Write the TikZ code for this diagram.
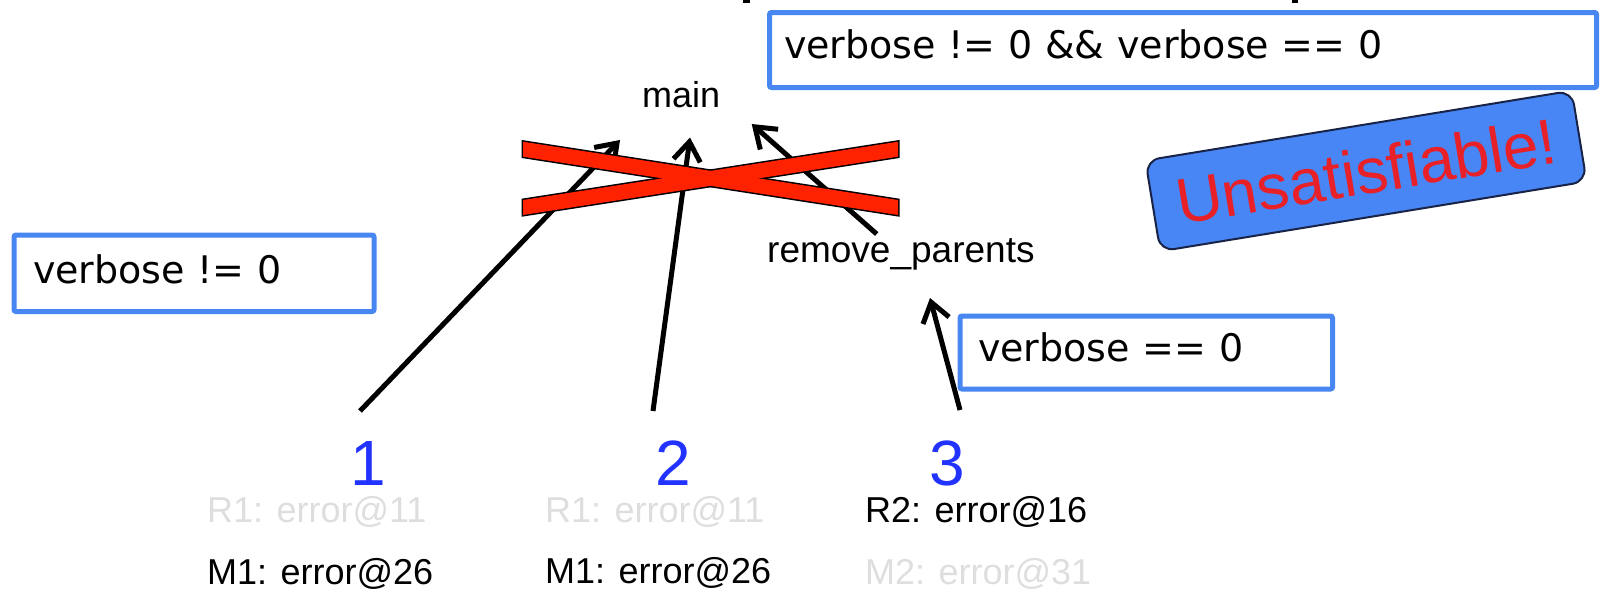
\documentclass[tikz,border=0pt]{standalone}
\usepackage{fontspec}
\setmainfont{Liberation Sans}
\newfontfamily\condfont{DejaVu Sans}
\usetikzlibrary{arrows.meta}

\definecolor{frameblue}{RGB}{72,134,242}
\definecolor{crossred}{RGB}{255,34,0}
\definecolor{stepblue}{RGB}{34,51,255}
\definecolor{fadegray}{RGB}{222,222,222}
\definecolor{badgeblue}{RGB}{72,134,245}
\definecolor{badgeedge}{RGB}{25,35,70}
\definecolor{badgered}{RGB}{232,32,40}

\begin{document}
\begin{tikzpicture}[x=1pt,y=-1pt,
  lbl/.style={font=\fontsize{36}{40}\selectfont, inner sep=0pt, anchor=base west},
  faded/.style={lbl, text=fadegray},
  stepnum/.style={font=\fontsize{64}{70}\selectfont, text=stepblue, inner sep=0pt, anchor=base},
  cond/.style={draw=frameblue, line width=5pt, rounded corners=2pt, align=left,
    font=\condfont\fontsize{38}{44}\selectfont, text height=28pt, inner ysep=0pt},
  call/.style={line width=5pt, -{Straight Barb[length=19pt,width=27pt]}},
  crossbar/.style={fill=crossred},
  stamp/.style={fill=badgeblue, draw=badgeedge, line width=2pt, rounded corners=14pt,
    minimum width=432pt, minimum height=92pt, inner sep=0pt, text=badgered,
    font=\fontsize{64}{70}\selectfont}
]
\useasboundingbox (0,0) rectangle (1600,590);

% clipped descenders of the heading above the frame
\fill (743,0) rectangle (750,3);
\fill (1292,0) rectangle (1298,3);

% path conditions
\node[cond, text width=322pt, inner xsep=19pt, minimum height=76.5pt, text depth=8pt]
  (cleft) at (194,273.25) {verbose != 0};
\node[cond, text width=798pt, inner xsep=14.5pt, minimum height=75pt, text depth=11pt]
  (ctop) at (1183,50) {verbose != 0 \&\& verbose == 0};
\node[cond, text width=336.5pt, inner xsep=18pt, minimum height=73pt, text depth=9.6pt]
  (cright) at (1146.25,352.5) {verbose == 0};

% call graph
\node[lbl] (main) at (642,107) {main};
\node[lbl, font=\fontsize{37}{40}\selectfont] (rp) at (767,262) {remove\_parents};

% numbered reports
\node[stepnum] (n1) at (368,485) {1};
\node[stepnum] (n2) at (673,485) {2};
\node[stepnum] (n3) at (947,485) {3};

\node[faded] (r1a) at (207,522) {R1: error@11};
\node[faded] (r1b) at (545,522) {R1: error@11};
\node[lbl]   (r2)  at (865,522) {R2: error@16};
\node[lbl]   (m1a) at (207,584) {M1: error@26};
\node[lbl]   (m1b) at (545,583) {M1: error@26};
\node[faded] (m2)  at (865,584) {M2: error@31};

% arrow end points
\coordinate (t1) at (360,411);
\coordinate (h1) at (620,140);
\coordinate (t2) at (653,411);
\coordinate (h2) at (690,137.5);
\coordinate (t3) at (876.7,234);
\coordinate (h3) at (751.7,124);
\coordinate (t4) at (960,410);
\coordinate (h4) at (930,298);

\draw[call] (t1) -- (h1);
\draw[call] (t2) -- (h2);
\draw[call] (t3) -- (h3);
\draw[call] (t4) -- (h4);

% red cross over the calls into main
\draw[line width=3pt] (523,141.7) -- (898,200) -- (898,215) -- (523,156.7) -- cycle;
\draw[line width=3pt] (523,200) -- (898,141.7) -- (898,156.7) -- (523,215) -- cycle;
\fill[crossred] (523,141.7) -- (898,200) -- (898,215) -- (523,156.7) -- cycle;
\fill[crossred] (523,200) -- (898,141.7) -- (898,156.7) -- (523,215) -- cycle;

% verdict stamp
\node[stamp, rotate=9.3] (verdict) at (1366,171) {Unsatisfiable!};
\end{tikzpicture}
\end{document}
